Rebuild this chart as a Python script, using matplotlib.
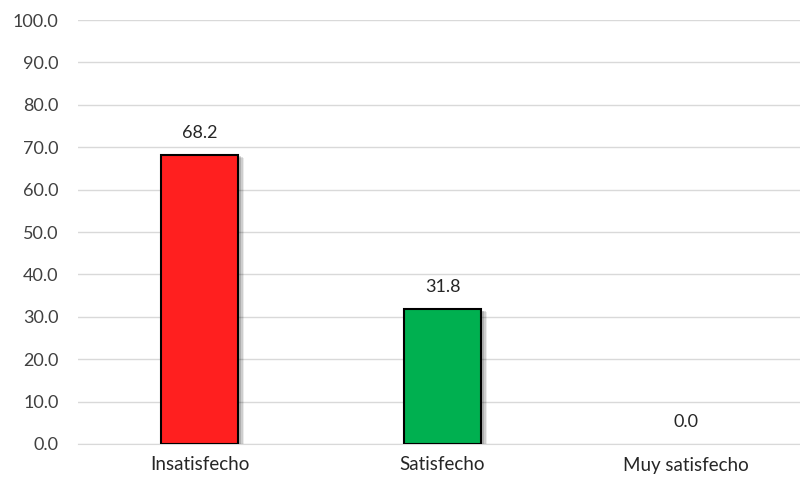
import matplotlib
matplotlib.use("Agg")
import matplotlib.pyplot as plt
import matplotlib.patheffects as pe

categories = ["Insatisfecho", "Satisfecho", "Muy satisfecho"]
values = [68.2, 31.8, 0.0]
colors = ["#FF1F1F", "#00B050", "#A5A5A5"]
yticks = [0, 10, 20, 30, 40, 50, 60, 70, 80, 90, 100]

plt.rcParams['font.family'] = ['Lato', 'DejaVu Sans']
fig = plt.figure(figsize=(8, 4.82), dpi=100)
ax = fig.add_axes([78/800, 38/482, 729/800, 424/482])

x = list(range(len(categories)))
bars = ax.bar(x, values, width=0.32, color=colors, edgecolor="black", linewidth=1.5, zorder=3)
for b, v in zip(bars, values):
    if v == 0:
        b.set_linewidth(0)
        b.set_visible(False)
        continue
    b.set_path_effects([
        pe.SimplePatchShadow(offset=(4, -2), shadow_rgbFace="black", alpha=0.08),
        pe.SimplePatchShadow(offset=(3, -1.5), shadow_rgbFace="black", alpha=0.12),
        pe.SimplePatchShadow(offset=(2, -1), shadow_rgbFace="black", alpha=0.15),
        pe.Normal()])

for xi, v in zip(x, values):
    ax.annotate(f"{v:.1f}", (xi, v), xytext=(0, 10), textcoords="offset points",
                ha="center", va="bottom", fontsize=13, color="#262626")

ax.set_xlim(-0.5, 2.5)
ax.set_ylim(0, 100)
ax.set_yticks(yticks)
ax.set_yticklabels([f"{t:.1f}" for t in yticks], fontsize=13, color="#404040")
ax.set_xticks(x)
ax.set_xticklabels(categories, fontsize=13.5, color="#262626")
ax.tick_params(axis="both", length=0)
ax.tick_params(axis="x", pad=9)
ax.tick_params(axis="y", pad=14)
ax.grid(axis="y", color="#D9D9D9", linewidth=1, zorder=0)
for s in ["top", "right", "left"]:
    ax.spines[s].set_visible(False)
ax.spines["bottom"].set_color("#D9D9D9")
ax.set_axisbelow(True)

fig.savefig("out.png", dpi=100)
